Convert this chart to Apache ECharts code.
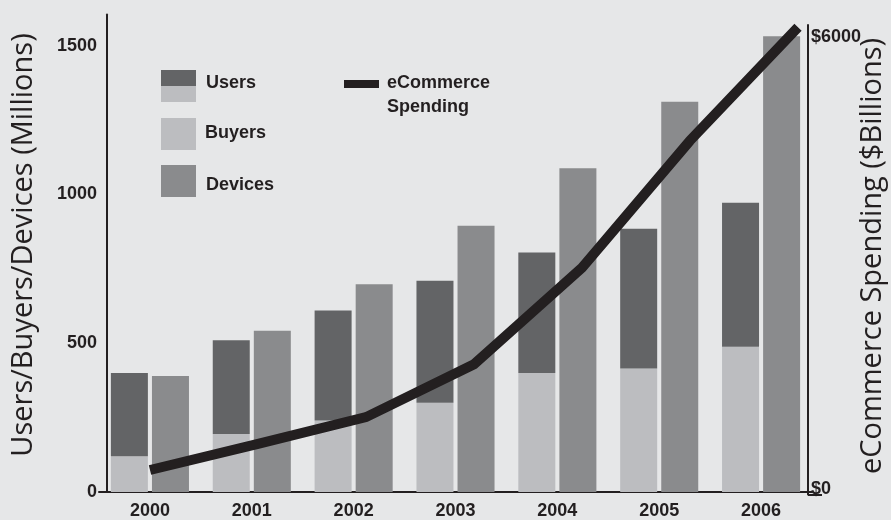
<!DOCTYPE html>
<html>
<head>
<meta charset="utf-8">
<script src="https://cdn.jsdelivr.net/npm/echarts@6/dist/echarts.min.js"></script>
<style>
  html, body { margin: 0; padding: 0; background: #e6e7e8; }
  #chart { width: 891px; height: 520px; }
</style>
</head>
<body>
<div id="chart"></div>
<script>
// Years on the category axis
const years = ['2000', '2001', '2002', '2003', '2004', '2005', '2006'];
// Internet users, online buyers and connected devices (millions)
const users   = [400, 510, 610, 710, 805, 885, 972];
const buyers  = [120, 195, 240, 300, 400, 415, 488];
const devices = [390, 542, 698, 895, 1088, 1312, 1532];
// eCommerce spending ($ billions)
const spending = [320, 660, 1010, 1700, 2960, 4620, 6100];
// Tick labels
const leftTicks = [0, 500, 1000, 1500];
const rightTicks = [0, 6000];

const C_USERS = '#636466';
const C_BUYERS = '#bcbdc0';
const C_DEVICES = '#8a8b8d';
const C_LINE = '#231f20';
const C_TEXT = '#231f20';
const SANS = '"Liberation Sans", Arial, sans-serif';
const BOLD = 'bold 18px ' + SANS;

// Users bar: buyers at the bottom, the remaining users stacked on top
const usersAbove = users.map((u, i) => u - buyers[i]);

const chart = echarts.init(document.getElementById('chart'), null, { renderer: 'canvas' });

const legendX = 161;
const option = {
  backgroundColor: '#e6e7e8',
  animation: false,
  grid: [
    { left: 99, right: 79, top: 14.5, bottom: 25.5 },
    { left: 150, right: 93, top: 25, bottom: 25.5 }
  ],
  xAxis: [
    {
      type: 'category', gridIndex: 0, data: years,
      axisLine: { lineStyle: { color: C_TEXT, width: 2 } },
      axisTick: { show: false },
      axisLabel: { color: C_TEXT, fontFamily: SANS, fontWeight: 'bold', fontSize: 18, margin: 10 }
    },
    { type: 'category', gridIndex: 1, data: years, boundaryGap: false, show: false }
  ],
  yAxis: [
    {
      type: 'value', gridIndex: 0, min: 0, max: 1605, interval: 500, offset: -8,
      splitLine: { show: false },
      axisLine: { show: true, lineStyle: { color: C_TEXT, width: 2 } },
      axisTick: { show: false },
      axisLabel: {
        showMaxLabel: false, margin: 10, color: C_TEXT,
        fontFamily: SANS, fontWeight: 'bold', fontSize: 18,
        formatter: v => (leftTicks.indexOf(v) >= 0 ? String(v) : '')
      }
    },
    {
      type: 'value', gridIndex: 1, position: 'right', min: 0, max: 6130, interval: 6000, offset: 10,
      splitLine: { show: false },
      axisLine: { show: true, lineStyle: { color: C_TEXT, width: 2 } },
      axisTick: { show: true, customValues: [0], length: 14, inside: false, lineStyle: { color: C_TEXT, width: 2 } },
      axisLabel: {
        showMaxLabel: false, margin: 3, color: C_TEXT,
        fontFamily: SANS, fontWeight: 'bold', fontSize: 18,
        formatter: v => (rightTicks.indexOf(v) < 0 ? '' : (v === 0 ? '{lo|$0}' : '{hi|$' + v + '}')),
        rich: {
          lo: { fontFamily: SANS, fontWeight: 'bold', fontSize: 18, color: C_TEXT, padding: [0, 0, 11, 0] },
          hi: { fontFamily: SANS, fontWeight: 'bold', fontSize: 18, color: C_TEXT, padding: [4, 0, 0, 0] }
        }
      }
    }
  ],
  series: [
    {
      name: 'Buyers', type: 'bar', xAxisIndex: 0, yAxisIndex: 0, stack: 'users',
      data: buyers, barWidth: 37, barGap: '11%',
      itemStyle: { color: C_BUYERS }
    },
    {
      name: 'Users', type: 'bar', xAxisIndex: 0, yAxisIndex: 0, stack: 'users',
      data: usersAbove, barWidth: 37, barGap: '11%',
      itemStyle: { color: C_USERS }
    },
    {
      name: 'Devices', type: 'bar', xAxisIndex: 0, yAxisIndex: 0,
      data: devices, barWidth: 37, barGap: '11%',
      itemStyle: { color: C_DEVICES }
    },
    {
      name: 'eCommerce Spending', type: 'line', xAxisIndex: 1, yAxisIndex: 1,
      data: spending, symbol: 'none', z: 5,
      lineStyle: { color: C_LINE, width: 10, cap: 'butt', join: 'miter' }
    }
  ],
  graphic: [
    // legend
    { type: 'rect', left: legendX, top: 70, shape: { width: 35, height: 16 }, style: { fill: C_USERS } },
    { type: 'rect', left: legendX, top: 86, shape: { width: 35, height: 16 }, style: { fill: C_BUYERS } },
    { type: 'text', x: 206, y: 83, style: { text: 'Users', font: BOLD, fill: C_TEXT, verticalAlign: 'middle' } },
    { type: 'rect', left: legendX, top: 118, shape: { width: 35, height: 32 }, style: { fill: C_BUYERS } },
    { type: 'text', x: 205, y: 133, style: { text: 'Buyers', font: BOLD, fill: C_TEXT, verticalAlign: 'middle' } },
    { type: 'rect', left: legendX, top: 165, shape: { width: 35, height: 32 }, style: { fill: C_DEVICES } },
    { type: 'text', x: 206, y: 185, style: { text: 'Devices', font: BOLD, fill: C_TEXT, verticalAlign: 'middle' } },
    { type: 'rect', left: 344, top: 80, shape: { width: 35, height: 8 }, style: { fill: C_LINE } },
    { type: 'text', x: 387, y: 83, style: { text: 'eCommerce', font: BOLD, fill: C_TEXT, verticalAlign: 'middle' } },
    { type: 'text', x: 387, y: 107, style: { text: 'Spending', font: BOLD, fill: C_TEXT, verticalAlign: 'middle' } },
    // axis titles
    { type: 'text', x: 24, y: 245, rotation: Math.PI / 2,
      style: { text: 'Users/Buyers/Devices (Millions)', font: '29px "Open Sans", sans-serif', fill: C_TEXT, align: 'center', verticalAlign: 'middle' } },
    { type: 'text', x: 873, y: 256, rotation: Math.PI / 2,
      style: { text: 'eCommerce Spending ($Billions)', font: '29px "Open Sans", sans-serif', fill: C_TEXT, align: 'center', verticalAlign: 'middle' } }
  ]
};

chart.setOption(option);
</script>
</body>
</html>
